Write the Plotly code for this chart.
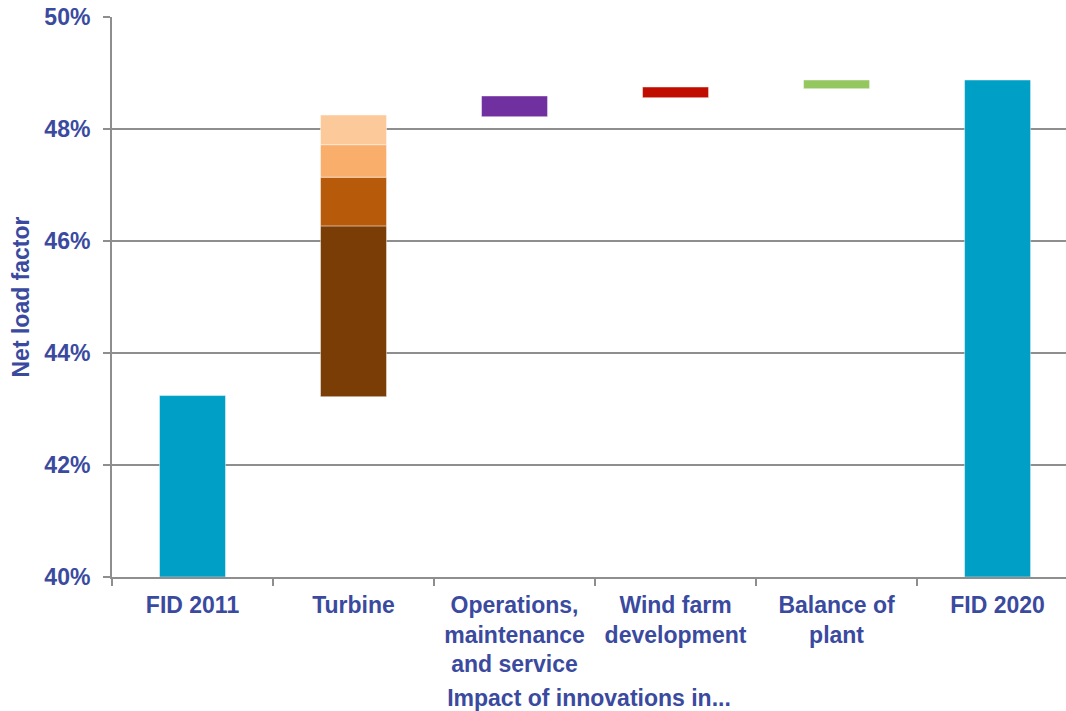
import plotly.graph_objects as go

# Categories along the waterfall
categories = [
    "FID 2011",
    "Turbine",
    "Operations,<br>maintenance<br>and service",
    "Wind farm<br>development",
    "Balance of<br>plant",
    "FID 2020",
]

# Net load factor (%) at the two reference points, bars start at the axis floor
axis_floor = 40.0
fid_2011 = 43.24
fid_2020 = 48.875

# Turbine innovations: stacked contributions (segment boundaries, %)
turbine_bounds = [43.22, 46.27, 47.14, 47.72, 48.25]
turbine_colors = ["#7A3D05", "#B75B0A", "#F9AE6C", "#FCC99B"]

# Other innovation areas: floating bars (low, high, %)
other_categories = categories[2:5]
other_low = [48.22, 48.56, 48.72]
other_high = [48.59, 48.75, 48.875]
other_colors = ["#7030A0", "#C00D00", "#94C760"]

teal = "#00A0C6"
text_color = "#3A4A9F"
grid_color = "#8E8E8E"
font_family = "Liberation Sans, Arial, sans-serif"
bar_width = 0.41
edge = dict(color="rgba(255,255,255,0.45)", width=1)

fig = go.Figure()

# Reference bars
fig.add_trace(go.Bar(
    x=[categories[0], categories[-1]],
    y=[fid_2011 - axis_floor, fid_2020 - axis_floor],
    base=[axis_floor, axis_floor],
    marker=dict(color=teal, line=edge),
    width=bar_width,
))

# Turbine stack
for lo, hi, col in zip(turbine_bounds[:-1], turbine_bounds[1:], turbine_colors):
    fig.add_trace(go.Bar(
        x=[categories[1]],
        y=[hi - lo],
        base=[lo],
        marker=dict(color=col, line=edge),
        width=bar_width,
    ))

# Remaining innovation steps
for cat, lo, hi, col in zip(other_categories, other_low, other_high, other_colors):
    fig.add_trace(go.Bar(
        x=[cat],
        y=[hi - lo],
        base=[lo],
        marker=dict(color=col, line=edge),
        width=bar_width,
    ))

label_font = dict(family=font_family, size=23, color=text_color, weight="bold")

fig.update_layout(
    width=1066,
    height=711,
    margin=dict(l=112, r=0, t=17, b=134),
    paper_bgcolor="white",
    plot_bgcolor="white",
    barmode="overlay",
    showlegend=False,
    font=label_font,
    xaxis=dict(
        type="category",
        categoryorder="array",
        categoryarray=categories,
        range=[-0.5, 5.425],
        tickson="boundaries",
        ticks="outside",
        ticklen=7,
        tickwidth=1.5,
        tickcolor=grid_color,
        showgrid=False,
        showline=True,
        linecolor=grid_color,
        linewidth=2,
        tickfont=label_font,
        ticklabelstandoff=6,
        automargin=False,
        title=dict(text="Impact of innovations in...", font=label_font, standoff=14),
    ),
    yaxis=dict(
        range=[40, 50],
        dtick=2,
        ticksuffix="%",
        ticks="outside",
        ticklen=7,
        tickwidth=1.5,
        tickcolor=grid_color,
        showgrid=True,
        gridcolor=grid_color,
        gridwidth=1.5,
        showline=True,
        linecolor=grid_color,
        linewidth=2,
        zeroline=False,
        tickfont=label_font,
        ticklabelstandoff=8,
        automargin=False,
        title=dict(text="Net load factor", font=label_font, standoff=8),
    ),
)

fig.write_html("out.html")
